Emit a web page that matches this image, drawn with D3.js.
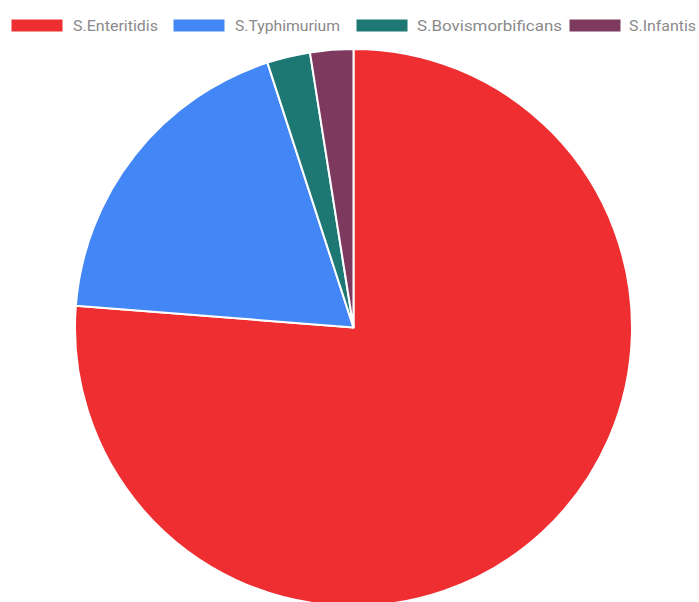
<!DOCTYPE html>
<html><head><meta charset="utf-8">
<script src="https://cdn.jsdelivr.net/npm/d3@7"></script>
<style>html,body{margin:0;padding:0;background:#fff;overflow:hidden}</style>
</head><body>
<svg id="c" width="699" height="602"></svg>
<script>
const categories = ["S.Enteritidis", "S.Typhimurium", "S.Bovismorbificans", "S.Infantis"];
const values = [61, 15, 2, 2];
const colors = ["#EE2E31", "#4287F5", "#1D7874", "#7D3A5E"];

const svg = d3.select("#c");
const cx = 353.5, cy = 327.5, r = 278.5;

const pie = d3.pie().sort(null).value(d => d)(values);
const arc = d3.arc().innerRadius(0).outerRadius(r);
const g = svg.append("g").attr("transform", `translate(${cx},${cy})`);
g.selectAll("path").data(pie).join("path")
  .attr("d", arc)
  .attr("fill", (d, i) => colors[i])
  .attr("stroke", "#fff")
  .attr("stroke-width", 2)
  .attr("stroke-linejoin", "round");

// legend
const boxX = [11, 173, 356, 569];
const textX = [73, 235, 417, 629];
const textW = [85, 105, 145, 67];
const leg = svg.append("g");
categories.forEach((c, i) => {
  leg.append("rect").attr("x", boxX[i]).attr("y", 19).attr("width", 52).attr("height", 13)
    .attr("fill", colors[i]).attr("stroke", "#fff").attr("stroke-width", 1);
  leg.append("text").attr("x", textX[i]).attr("y", 25.5)
    .attr("dominant-baseline", "central")
    .attr("font-family", "Roboto, 'Liberation Sans', sans-serif")
    .attr("font-size", 15).attr("fill", "#8a8a8a")
    .attr("textLength", textW[i]).attr("lengthAdjust", "spacingAndGlyphs")
    .text(c);
});
</script>
</body></html>
